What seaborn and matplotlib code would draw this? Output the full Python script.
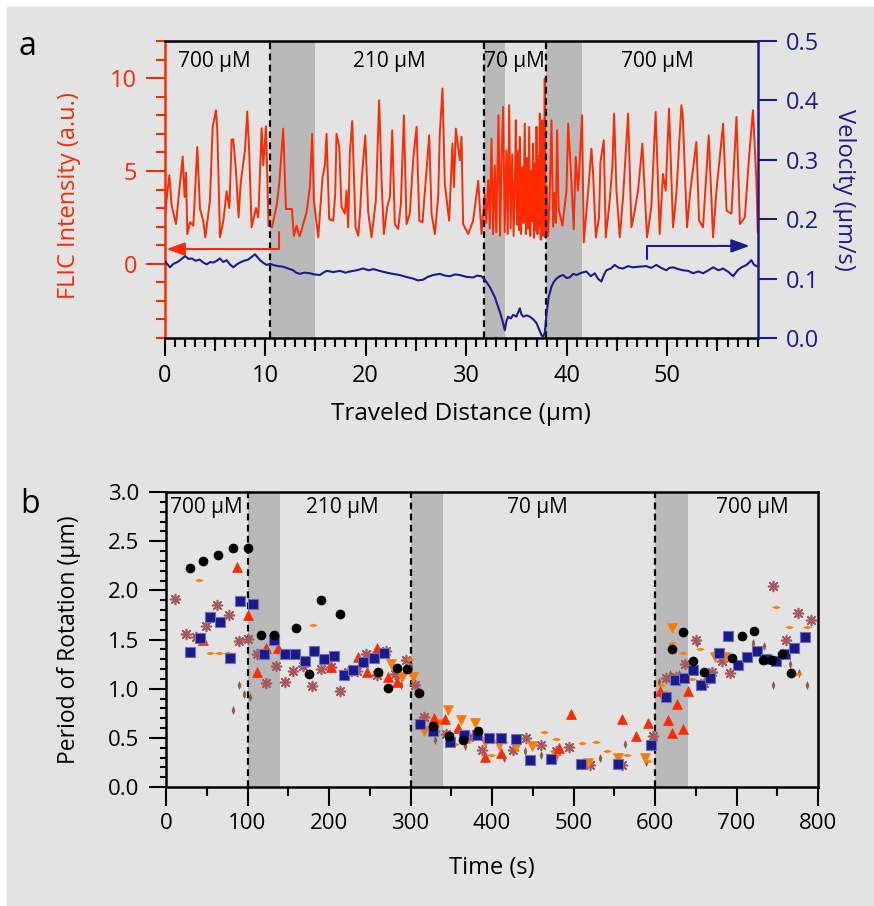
import matplotlib.pyplot as plt
import numpy as np
import seaborn as sns
from matplotlib.patches import Rectangle
from matplotlib.ticker import MultipleLocator

# ---------------- panel a: FLIC intensity / velocity vs traveled distance
flic_dist = [
    0.05, 0.48, 0.71, 1.14, 1.47, 1.81, 2.00, 2.14, 2.27, 2.54, 2.87, 3.26, 3.53, 3.86, 4.06,
    4.52, 4.79, 5.12, 5.25, 5.52, 5.85, 6.18, 6.45, 6.68, 6.84, 7.11, 7.37, 7.57, 8.00, 8.23,
    8.43, 8.66, 9.10, 9.33, 9.66, 9.82, 10.09, 10.35, 10.69, 11.15, 11.41, 11.81, 12.08, 12.67,
    12.87, 13.14, 13.40, 13.47, 14.13, 14.46, 14.69, 14.86, 15.29, 15.72, 15.95, 16.12, 16.38,
    16.78, 16.98, 17.11, 17.38, 17.61, 17.94, 18.10, 18.27, 18.43, 18.67, 19.00, 19.27, 19.43,
    19.63, 19.97, 20.26, 20.59, 21.02, 21.35, 21.59, 21.82, 22.15, 22.42, 22.65, 22.91, 23.24,
    23.51, 23.81, 24.07, 24.40, 24.74, 25.07, 25.34, 25.66, 26.06, 26.33, 26.56, 26.89, 27.22,
    27.38, 27.65, 27.88, 28.31, 28.64, 28.80, 28.97, 29.37, 29.54, 29.70, 30.20, 30.70, 31.20,
    31.53, 31.86, 32.00, 32.20, 32.35, 32.52, 32.68, 32.85, 33.00, 33.22, 33.38, 33.52, 33.68,
    33.84, 34.00, 34.14, 34.28, 34.43, 34.58, 34.72, 34.86, 34.94, 35.06, 35.18, 35.28, 35.34,
    35.46, 35.58, 35.70, 35.83, 35.95, 36.06, 36.16, 36.27, 36.38, 36.48, 36.58, 36.66, 36.76,
    36.86, 36.94, 37.00, 37.10, 37.20, 37.27, 37.33, 37.42, 37.50, 37.55, 37.59, 37.68, 37.76,
    37.82, 37.90, 38.00, 38.15, 38.30, 38.49, 38.65, 38.80, 38.92, 39.05, 39.20, 39.31, 39.58,
    39.98, 40.15, 40.47, 40.70, 40.90, 41.13, 41.30, 41.53, 41.70, 42.13, 42.46, 42.63, 42.90,
    43.22, 43.36, 43.69, 43.89, 44.28, 44.55, 44.72, 44.95, 45.28, 45.61, 46.11, 46.44, 46.77,
    47.10, 47.53, 47.99, 48.42, 48.85, 49.25, 49.58, 49.85, 50.18, 50.58, 50.91, 51.41, 51.55,
    51.97, 52.30, 52.67, 52.90, 53.17, 53.56, 54.13, 54.56, 54.90, 55.56, 55.90, 56.39, 56.89,
    57.23, 57.72, 58.14, 58.53, 58.87, 59.00,
]
flic_int = [
    2.70, 4.76, 3.13, 2.14, 3.94, 5.78, 3.60, 4.90, 1.60, 2.24, 2.05, 6.29, 2.95, 2.30, 1.42,
    3.40, 7.37, 8.27, 7.20, 1.42, 2.30, 3.90, 3.00, 6.70, 6.70, 5.00, 2.50, 4.30, 6.10, 8.20,
    5.93, 1.96, 3.00, 2.50, 7.30, 5.30, 7.40, 2.05, 1.96, 3.13, 4.30, 7.28, 2.95, 2.95,
    1.50, 2.05, 1.50, 1.51, 2.78, 4.13, 7.00, 3.40, 1.42, 4.66, 5.30, 7.00, 2.41,
    2.32, 3.76, 7.00, 6.29, 3.05, 2.70, 3.94, 1.96, 5.93, 7.69, 1.96, 1.51, 2.59,
    4.66, 6.92, 2.78, 1.42, 3.40, 8.81, 4.47, 1.60, 3.05, 3.60, 7.19, 2.14, 1.87,
    3.22, 8.00, 2.14, 2.70, 5.66, 7.37, 2.32, 2.23, 5.00, 6.92, 2.70, 1.60, 3.60,
    7.00, 9.44, 4.30, 2.32, 6.47, 4.13, 7.28, 5.57, 6.84, 2.14, 1.60, 2.32, 4.47,
    1.60, 3.76, 2.20, 4.50, 1.90, 6.74, 1.60, 5.30, 1.70, 8.00, 1.50, 5.60, 8.45,
    1.70, 6.10, 1.60, 8.54, 1.90, 5.90, 1.50, 4.80, 7.73, 2.10, 6.10, 1.80, 6.83,
    1.60, 5.20, 2.20, 7.55, 1.60, 5.70, 1.90, 7.37, 1.50, 5.00, 2.30, 6.47, 1.40,
    5.40, 1.80, 7.37, 1.60, 5.80, 2.00, 8.09, 1.30, 6.20, 1.80, 7.73, 1.50, 5.50,
    9.98, 1.40, 4.20, 1.50, 3.50, 7.73, 2.00, 3.80, 2.20, 7.19, 3.00, 2.70, 2.05,
    3.94, 7.55, 4.47, 1.87, 5.75, 3.94, 5.57, 8.00, 1.15, 3.85, 6.20, 4.84, 1.42,
    2.50, 5.48, 6.65, 1.42, 3.40, 5.30, 8.09, 3.94, 1.42, 3.60, 8.09, 1.96, 2.86,
    3.94, 6.47, 1.42, 3.05, 8.18, 1.60, 4.84, 3.94, 8.36, 1.96, 3.76, 8.54, 7.90,
    1.96, 3.94, 5.57, 6.56, 2.32, 1.96, 6.92, 1.42, 3.94, 7.55, 2.86, 2.70, 7.91,
    2.14, 2.50, 5.75, 8.27, 4.47, 1.70,
]
vel_dist = [
    0.00, 0.30, 0.55, 0.90, 1.30, 1.70, 2.04, 2.40, 2.70, 3.10, 3.50, 3.85, 4.20, 4.55, 4.86,
    5.20, 5.50, 5.85, 6.18, 6.50, 6.85, 7.20, 7.50, 7.90, 8.33, 8.70, 9.00, 9.25, 9.50, 9.80,
    10.15, 10.50, 10.80, 11.30, 11.80, 12.30, 12.80, 13.10, 13.47, 13.90, 14.46, 14.90, 15.45,
    15.80, 16.12, 16.80, 17.45, 18.00, 18.45, 19.10, 19.77, 20.30, 20.77, 21.40, 22.10, 22.70,
    23.40, 24.00, 24.73, 25.20, 25.70, 26.20, 26.70, 27.39, 27.90, 28.38, 28.90, 29.37, 30.00,
    30.70, 31.10, 31.52, 31.86, 32.35, 32.85, 33.35, 33.60, 33.85, 34.00, 34.18, 34.45, 34.68,
    35.00, 35.34, 35.50, 35.67, 36.00, 36.33, 36.70, 37.00, 37.25, 37.49, 37.65, 37.83, 38.00,
    38.20, 38.48, 38.70, 38.98, 39.30, 39.65, 40.00, 40.30, 40.65, 40.97, 41.50, 41.96, 42.40,
    42.80, 43.10, 43.45, 43.70, 43.95, 44.40, 44.78, 45.20, 45.61, 46.10, 46.60, 47.20, 47.93,
    48.40, 48.92, 49.40, 49.92, 50.20, 50.58, 51.10, 51.58, 52.10, 52.57, 53.10, 53.57, 54.10,
    54.57, 55.10, 55.56, 56.10, 56.56, 57.00, 57.38, 57.90, 58.38, 58.60, 58.87, 59.00,
]
vel_val = [
    0.130, 0.124, 0.119, 0.125, 0.128, 0.133, 0.138, 0.133, 0.134, 0.130, 0.132, 0.127, 0.124,
    0.128, 0.127, 0.130, 0.134, 0.128, 0.131, 0.124, 0.119, 0.124, 0.127, 0.130, 0.132, 0.137,
    0.141, 0.136, 0.131, 0.127, 0.123, 0.125, 0.123, 0.121, 0.120, 0.117, 0.114, 0.110, 0.108,
    0.110, 0.109, 0.107, 0.106, 0.110, 0.113, 0.111, 0.113, 0.110, 0.112, 0.114, 0.117, 0.114,
    0.116, 0.113, 0.110, 0.108, 0.106, 0.103, 0.100, 0.097, 0.098, 0.103, 0.106, 0.108, 0.105,
    0.104, 0.107, 0.106, 0.103, 0.102, 0.105, 0.104, 0.098, 0.086, 0.069, 0.044, 0.030, 0.013,
    0.028, 0.036, 0.033, 0.039, 0.036, 0.050, 0.040, 0.036, 0.038, 0.036, 0.031, 0.025, 0.015,
    0.005, 0.002, 0.009, 0.041, 0.068, 0.086, 0.094, 0.100, 0.104, 0.106, 0.101, 0.102, 0.108,
    0.106, 0.110, 0.112, 0.104, 0.109, 0.100, 0.095, 0.106, 0.114, 0.117, 0.123, 0.118, 0.117,
    0.121, 0.119, 0.120, 0.121, 0.118, 0.123, 0.118, 0.114, 0.118, 0.119, 0.116, 0.114, 0.113,
    0.109, 0.112, 0.109, 0.114, 0.119, 0.114, 0.117, 0.111, 0.104, 0.114, 0.119, 0.123, 0.131,
    0.124, 0.121, 0.121,
]
switch_a = [10.5, 31.75, 37.9]
bands_a = [(10.5, 15.0), (31.75, 33.85), (37.9, 41.5)]
conc_a = ["700 μM", "210 μM", "70 μM", "700 μM"]

# ---------------- panel b: period of rotation vs time (7 motors)
circ_t = [29, 46, 64, 82, 100, 117, 132, 160, 190, 213, 175, 260, 272, 284, 296, 311, 327, 347,
          364, 383, 621, 634, 647, 660, 695, 707, 721, 733, 744, 756, 767]
circ_p = [2.23, 2.30, 2.36, 2.43, 2.43, 1.55, 1.55, 1.62, 1.90, 1.76, 1.15, 1.17, 1.01, 1.21,
          1.20, 0.96, 0.62, 0.52, 0.48, 0.57, 1.40, 1.58, 1.28, 1.17, 1.31, 1.54, 1.59, 1.29,
          1.29, 1.35, 1.16]
sq_t = [30, 42, 54, 66, 79, 91, 107, 120, 132, 146, 158, 170, 182, 194, 206, 218, 230, 242, 255,
        268, 312, 328, 349, 366, 381, 396, 411, 430, 447, 472, 509, 554, 595, 614, 625, 636, 647,
        657, 668, 678, 690, 702, 713, 725, 736, 748, 759, 771, 784]
sq_p = [1.37, 1.52, 1.73, 1.68, 1.31, 1.89, 1.86, 1.35, 1.50, 1.35, 1.35, 1.28, 1.38, 1.30,
        1.33, 1.14, 1.19, 1.27, 1.31, 1.36, 0.64, 0.57, 0.46, 0.53, 0.53, 0.50, 0.50, 0.49, 0.27,
        0.285, 0.23, 0.23, 0.43, 0.92, 1.09, 1.11, 1.19, 1.04, 1.11, 1.36, 1.54, 1.24, 1.32, 1.38,
        1.30, 1.28, 1.35, 1.41, 1.53]
tri_up_t = [45, 87, 100, 112, 123, 137, 203, 235, 247, 259, 272, 283, 329, 342, 358, 391, 411,
            482, 497, 560, 577, 592, 606, 616, 621, 627, 634, 640]
tri_up_p = [1.50, 2.24, 1.75, 1.17, 1.41, 1.41, 1.22, 1.32, 1.17, 1.41, 1.12, 1.07, 0.70, 0.69,
            0.60, 0.31, 0.35, 0.40, 0.74, 0.69, 0.52, 0.65, 0.98, 0.68, 0.55, 0.84, 0.59, 0.98]
tri_dn_t = [276, 290, 303, 317, 332, 346, 362, 379, 391, 408, 429, 449, 479, 518, 555, 588, 608,
            621, 674, 686]
tri_dn_p = [1.25, 1.12, 1.12, 0.57, 0.64, 0.78, 0.68, 0.65, 0.46, 0.43, 0.41, 0.42, 0.32, 0.24,
            0.30, 0.30, 0.93, 1.62, 1.32, 1.32]
dia_h_t = [41, 54, 65, 76, 180, 299, 355, 369, 399, 415, 464, 479, 510, 527, 541, 566, 592, 607,
           621, 634, 645, 655, 749, 764, 775, 787]
dia_h_p = [2.11, 1.36, 1.36, 1.36, 1.65, 1.30, 0.44, 0.46, 0.33, 0.46, 0.56, 0.49, 0.45, 0.46,
           0.37, 0.33, 0.26, 1.04, 1.46, 1.36, 1.10, 1.40, 1.83, 1.63, 1.15, 1.63]
star_t = [11, 25, 37, 49, 62, 77, 89, 101, 112, 123, 135, 146, 156, 168, 179, 190, 202, 213, 223,
          234, 246, 259, 270, 281, 294, 306, 317, 329, 343, 372, 388, 426, 442, 460, 478, 494,
          520, 560, 597, 613, 626, 637, 650, 660, 670, 682, 692, 745, 761, 776, 791]
star_p = [1.91, 1.56, 1.53, 1.64, 1.85, 1.75, 1.48, 1.51, 1.35, 1.06, 1.23, 1.07, 1.18, 1.23,
          1.03, 1.20, 1.22, 0.98, 1.17, 1.18, 1.35, 1.14, 1.38, 1.15, 1.29, 1.04, 0.71, 0.57,
          0.54, 0.51, 0.38, 0.38, 0.50, 0.43, 0.37, 0.41, 0.22, 0.22, 0.52, 1.11, 1.12, 1.25,
          1.49, 1.06, 1.17, 1.28, 1.16, 2.04, 1.50, 1.77, 1.70]
dia_v_t = [82, 89, 96, 103, 122, 272, 288, 300, 330, 349, 367, 415, 441, 460, 533, 563, 589, 605,
           619, 629, 651, 720, 734, 745, 766, 777, 787]
dia_v_p = [0.78, 1.04, 0.95, 0.92, 1.05, 1.01, 1.04, 1.22, 0.48, 0.46, 0.42, 0.29, 0.37, 0.33,
           0.30, 0.44, 0.25, 1.07, 1.15, 1.15, 1.46, 1.46, 1.43, 1.04, 1.25, 1.16, 1.04]
switch_b = [100, 300, 600]
bands_b = [(100, 140), (300, 340), (600, 640)]
conc_b = ["700 μM", "210 μM", "70 μM", "700 μM"]

# ---------------- style
RED = "#ff2a00"
NAVY = "#1c1c8e"
BG = "#e3e3e3"
BAND = "#b9b9b9"

sns.set_style("ticks")
plt.rcParams["font.family"] = ["Open Sans", "DejaVu Sans"]
plt.rcParams["text.color"] = "black"
plt.rcParams["axes.labelcolor"] = "black"
plt.rcParams["xtick.color"] = "black"
plt.rcParams["ytick.color"] = "black"

fig = plt.figure(figsize=(8.74, 9.06), dpi=100)
fig.patch.set_facecolor("white")
fig.add_artist(Rectangle((7 / 874, 0), 1, (906 - 7) / 906, transform=fig.transFigure,
                         color=BG, zorder=-10))

# ================= panel a
ax = fig.add_axes([164.5 / 874, 1 - 338 / 906, 593.2 / 874, 297 / 906])
ax.set_facecolor("none")
for lo, hi in bands_a:
    ax.axvspan(lo, hi, color=BAND, lw=0, zorder=0)
for xv in switch_a:
    ax.axvline(xv, color="black", ls=(0, (3, 2)), lw=1.6, zorder=3)

sns.lineplot(x=flic_dist, y=flic_int, ax=ax, color=RED, lw=1.4, sort=False, estimator=None,
             zorder=2)
ax.set_xlim(0, 59)
ax.set_ylim(-4, 12)
ax.set_yticks([0, 5, 10])
ax.yaxis.set_minor_locator(MultipleLocator(1))
ax.xaxis.set_major_locator(MultipleLocator(10))
ax.xaxis.set_minor_locator(MultipleLocator(1))
ax.tick_params(axis="x", which="major", length=13, width=1.5, labelsize=17, pad=6,
               colors="black")
ax.tick_params(axis="x", which="minor", length=6.5, width=1.5, colors="black")
ax.tick_params(axis="y", which="major", length=13.5, width=1.5, labelsize=17, pad=6,
               colors=RED)
ax.tick_params(axis="y", which="minor", length=6.7, width=1.5, colors=RED)
mid = ax.secondary_xaxis("bottom")
mid.set_xticks(np.arange(5, 59, 10))
mid.tick_params(length=9, width=1.5, labelbottom=False, colors="black")
mid.spines["bottom"].set_visible(False)

for side in ["top", "bottom"]:
    ax.spines[side].set_visible(True)
    ax.spines[side].set_color("black")
    ax.spines[side].set_linewidth(1.8)
ax.spines["left"].set_color(RED)
ax.spines["left"].set_linewidth(1.8)
ax.spines["right"].set_visible(False)

ax.set_xlabel("Traveled Distance (μm)", fontsize=17.5)
ax.xaxis.set_label_coords(0.5, -0.215)
ax.set_ylabel("FLIC Intensity (a.u.)", fontsize=17, color=RED)
ax.yaxis.set_label_coords(-0.14, 0.48)

for label, xc in zip(conc_a, [5.0, 22.4, 34.8, 49.0]):
    ax.text(xc, 10.9, label, ha="center", va="center", fontsize=15, zorder=5)

# left arrow (intensity axis)
ax.plot([11.38, 11.38, 3.0], [1.69, 0.79, 0.79], color=RED, lw=1.5, zorder=4)
ax.annotate("", xy=(0.2, 0.79), xytext=(3.0, 0.79),
            arrowprops=dict(arrowstyle="-|>,head_length=0.55,head_width=0.2", color=RED,
                            lw=1.5, mutation_scale=20, shrinkA=0, shrinkB=0), zorder=4)

ax2 = ax.twinx()
sns.lineplot(x=vel_dist, y=vel_val, ax=ax2, color=NAVY, lw=1.5, sort=False, estimator=None)
ax2.set_ylim(0, 0.5)
ax2.set_yticks([0.0, 0.1, 0.2, 0.3, 0.4, 0.5])
ax2.set_yticklabels(["0.0", "0.1", "0.2", "0.3", "0.4", "0.5"])
ax2.tick_params(axis="y", length=13.5, width=1.5, labelsize=17, pad=7, colors=NAVY)
for side in ["top", "bottom", "left"]:
    ax2.spines[side].set_visible(False)
ax2.spines["right"].set_visible(True)
ax2.spines["right"].set_color(NAVY)
ax2.spines["right"].set_linewidth(1.8)
ax2.set_ylabel("Velocity (μm/s)", fontsize=17, color=NAVY, rotation=270, va="bottom")
ax2.yaxis.set_label_coords(1.125, 0.5)
ax2.plot([48.0, 48.0, 55.0], [0.1325, 0.155, 0.155], color=NAVY, lw=1.5)
ax2.annotate("", xy=(58.2, 0.155), xytext=(55.0, 0.155),
             arrowprops=dict(arrowstyle="-|>,head_length=0.55,head_width=0.2", color=NAVY,
                             lw=1.5, mutation_scale=20, shrinkA=0, shrinkB=0))

# ================= panel b
bx = fig.add_axes([166 / 874, 1 - 787 / 906, 652 / 874, 295 / 906])
bx.set_facecolor("none")
for lo, hi in bands_b:
    bx.axvspan(lo, hi, color=BAND, lw=0, zorder=0)
for xv in switch_b:
    bx.axvline(xv, color="black", ls=(0, (3, 2)), lw=1.6, zorder=1)

h_dia = [(-1, 0), (0, 0.38), (1, 0), (0, -0.38), (-1, 0)]
v_dia = [(0, -1), (0.38, 0), (0, 1), (-0.38, 0), (0, -1)]
series = [
    (dia_v_t, dia_v_p, v_dia, "#8a5a44", 30, "#8a5a44", 0.5),
    (star_t, star_p, (8, 2, 0), "#a8585c", 50, None, 1.2),
    (dia_h_t, dia_h_p, h_dia, "#ff8000", 30, "#ff8000", 0.5),
    (tri_dn_t, tri_dn_p, "v", "#ff7a00", 50, "#ff7a00", 0.5),
    (tri_up_t, tri_up_p, "^", RED, 50, RED, 0.5),
    (sq_t, sq_p, "s", "#1a1a8c", 48, "#7070b8", 0.8),
    (circ_t, circ_p, "o", "black", 42, "black", 0.5),
]
for xs, ys, mk, col, size, ec, lw in series:
    kws = dict(x=xs, y=ys, ax=bx, marker=mk, color=col, s=size, linewidth=lw, zorder=4,
               legend=False)
    if ec is not None:
        kws["edgecolor"] = ec
    sns.scatterplot(**kws)

bx.set_xlim(0, 800)
bx.set_ylim(0, 3.0)
bx.xaxis.set_major_locator(MultipleLocator(100))
bx.xaxis.set_minor_locator(MultipleLocator(50))
bx.yaxis.set_major_locator(MultipleLocator(0.5))
bx.yaxis.set_minor_locator(MultipleLocator(0.1))
bx.yaxis.set_major_formatter("{x:.1f}")
bx.tick_params(axis="x", which="major", length=13.7, width=1.5, labelsize=16, pad=5,
               colors="black")
bx.tick_params(axis="x", which="minor", length=6.8, width=1.5, colors="black")
bx.tick_params(axis="y", which="major", length=12, width=1.5, labelsize=16, pad=7,
               colors="black")
bx.tick_params(axis="y", which="minor", length=4.3, width=1.5, colors="black")
for side in ["top", "bottom", "left", "right"]:
    bx.spines[side].set_visible(True)
    bx.spines[side].set_color("black")
    bx.spines[side].set_linewidth(1.8)
bx.set_xlabel("Time (s)", fontsize=17)
bx.xaxis.set_label_coords(0.5, -0.235)
bx.set_ylabel("Period of Rotation (μm)", fontsize=16.5)
bx.yaxis.set_label_coords(-0.13, 0.5)
for label, xc in zip(conc_b, [50, 216, 456, 720]):
    bx.text(xc, 2.84, label, ha="center", va="center", fontsize=15, zorder=5)

fig.text(19 / 874, 1 - 55 / 906, "a", fontsize=23, ha="left", va="baseline")
fig.text(20 / 874, 1 - 513 / 906, "b", fontsize=23, ha="left", va="baseline")

fig.savefig("out.png", dpi=100, facecolor=fig.get_facecolor())
